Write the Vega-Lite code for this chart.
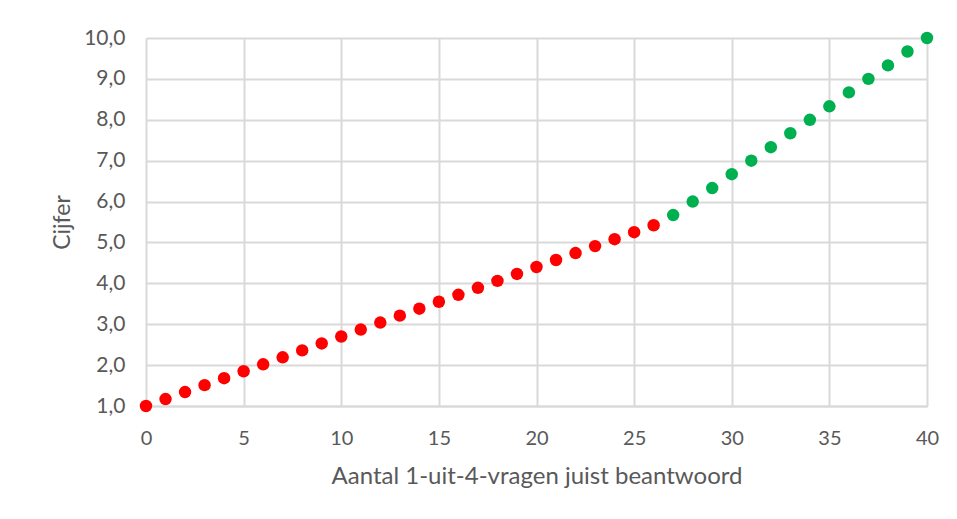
{
  "$schema": "https://vega.github.io/schema/vega-lite/v6.json",
  "width": 781,
  "height": 368,
  "autosize": {"type": "none"},
  "padding": {"left": 146, "top": 38, "right": 30, "bottom": 113},
  "background": "white",
  "config": {
    "locale": {"number": {"decimal": ",", "thousands": ".", "grouping": [3], "currency": ["€", ""]}},
    "view": {"stroke": null},
    "font": "Lato"
  },
  "data": {
    "values": [
      {"juist": 0, "cijfer": 1.0, "groep": "onvoldoende"},
      {"juist": 1, "cijfer": 1.17, "groep": "onvoldoende"},
      {"juist": 2, "cijfer": 1.34, "groep": "onvoldoende"},
      {"juist": 3, "cijfer": 1.51, "groep": "onvoldoende"},
      {"juist": 4, "cijfer": 1.68, "groep": "onvoldoende"},
      {"juist": 5, "cijfer": 1.85, "groep": "onvoldoende"},
      {"juist": 6, "cijfer": 2.02, "groep": "onvoldoende"},
      {"juist": 7, "cijfer": 2.19, "groep": "onvoldoende"},
      {"juist": 8, "cijfer": 2.36, "groep": "onvoldoende"},
      {"juist": 9, "cijfer": 2.53, "groep": "onvoldoende"},
      {"juist": 10, "cijfer": 2.7, "groep": "onvoldoende"},
      {"juist": 11, "cijfer": 2.87, "groep": "onvoldoende"},
      {"juist": 12, "cijfer": 3.04, "groep": "onvoldoende"},
      {"juist": 13, "cijfer": 3.21, "groep": "onvoldoende"},
      {"juist": 14, "cijfer": 3.38, "groep": "onvoldoende"},
      {"juist": 15, "cijfer": 3.55, "groep": "onvoldoende"},
      {"juist": 16, "cijfer": 3.72, "groep": "onvoldoende"},
      {"juist": 17, "cijfer": 3.89, "groep": "onvoldoende"},
      {"juist": 18, "cijfer": 4.06, "groep": "onvoldoende"},
      {"juist": 19, "cijfer": 4.23, "groep": "onvoldoende"},
      {"juist": 20, "cijfer": 4.4, "groep": "onvoldoende"},
      {"juist": 21, "cijfer": 4.57, "groep": "onvoldoende"},
      {"juist": 22, "cijfer": 4.74, "groep": "onvoldoende"},
      {"juist": 23, "cijfer": 4.91, "groep": "onvoldoende"},
      {"juist": 24, "cijfer": 5.08, "groep": "onvoldoende"},
      {"juist": 25, "cijfer": 5.25, "groep": "onvoldoende"},
      {"juist": 26, "cijfer": 5.42, "groep": "onvoldoende"},
      {"juist": 27, "cijfer": 5.67, "groep": "voldoende"},
      {"juist": 28, "cijfer": 6.0, "groep": "voldoende"},
      {"juist": 29, "cijfer": 6.33, "groep": "voldoende"},
      {"juist": 30, "cijfer": 6.67, "groep": "voldoende"},
      {"juist": 31, "cijfer": 7.0, "groep": "voldoende"},
      {"juist": 32, "cijfer": 7.33, "groep": "voldoende"},
      {"juist": 33, "cijfer": 7.67, "groep": "voldoende"},
      {"juist": 34, "cijfer": 8.0, "groep": "voldoende"},
      {"juist": 35, "cijfer": 8.33, "groep": "voldoende"},
      {"juist": 36, "cijfer": 8.67, "groep": "voldoende"},
      {"juist": 37, "cijfer": 9.0, "groep": "voldoende"},
      {"juist": 38, "cijfer": 9.33, "groep": "voldoende"},
      {"juist": 39, "cijfer": 9.67, "groep": "voldoende"},
      {"juist": 40, "cijfer": 10.0, "groep": "voldoende"}
    ]
  },
  "mark": {"type": "point", "filled": true, "opacity": 1, "size": 155},
  "encoding": {
    "x": {
      "field": "juist",
      "type": "quantitative",
      "scale": {"domain": [0, 40], "nice": false, "zero": false},
      "axis": {
        "title": "Aantal 1-uit-4-vragen juist beantwoord",
        "values": [0, 5, 10, 15, 20, 25, 30, 35, 40],
        "format": "d",
        "ticks": false,
        "domain": true,
        "domainColor": "#d9d9d9",
        "domainWidth": 2,
        "grid": true,
        "gridColor": "#d9d9d9",
        "gridWidth": 2,
        "labelFont": "Lato",
        "labelFontSize": 20,
        "labelColor": "#595959",
        "labelPadding": 22,
        "labelFlush": false,
        "titleFont": "Lato",
        "titleFontSize": 24,
        "titleFontWeight": "normal",
        "titleColor": "#595959",
        "titlePadding": 16
      }
    },
    "y": {
      "field": "cijfer",
      "type": "quantitative",
      "scale": {"domain": [1, 10], "nice": false, "zero": false},
      "axis": {
        "title": "Cijfer",
        "values": [1, 2, 3, 4, 5, 6, 7, 8, 9, 10],
        "format": ".1f",
        "ticks": false,
        "domain": false,
        "grid": true,
        "gridColor": "#d9d9d9",
        "gridWidth": 2,
        "labelFont": "Lato",
        "labelFontSize": 21,
        "labelColor": "#595959",
        "labelPadding": 21,
        "labelFlush": false,
        "titleFont": "Lato",
        "titleFontSize": 23,
        "titleFontWeight": "normal",
        "titleColor": "#595959",
        "titlePadding": 9
      }
    },
    "color": {
      "field": "groep",
      "type": "nominal",
      "scale": {"domain": ["onvoldoende", "voldoende"], "range": ["#ff0000", "#00b050"]},
      "legend": null
    }
  }
}
